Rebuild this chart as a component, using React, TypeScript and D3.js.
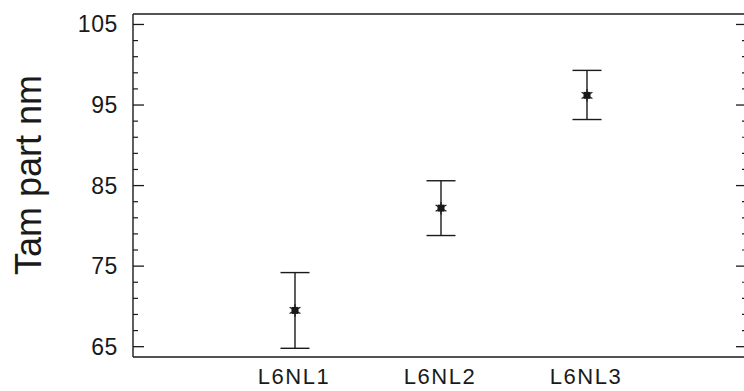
import React from "react";
import * as d3 from "d3";

// Group means with their interval bounds (particle size, nm)
const categories = ["L6NL1", "L6NL2", "L6NL3"];
const means = [69.5, 82.2, 96.2];
const upper = [74.2, 85.6, 99.3];
const lower = [64.8, 78.8, 93.2];
const majorTicks = [65, 75, 85, 95, 105];
const minorTicks = d3.range(65, 106, 2).filter((v) => !majorTicks.includes(v));

const W = 744;
const H = 391;
const left = 133;
const right = 746;
const top = 14;
const bottom = 357;

export default function App() {
  const y = d3.scaleLinear().domain([63.72, 106.3]).range([bottom, top]);
  const x = d3.scaleLinear().domain([1, 3]).range([295, 587]);
  const capHalf = 14.5;
  const square = d3.symbol().type(d3.symbolSquare).size(49)()!;
  const star = d3.symbol().type(d3.symbolAsterisk).size(110)()!;
  const ink = "#1a1a1a";
  const font = "Arial, 'Liberation Sans', sans-serif";

  return (
    <svg
      width={W}
      height={H}
      style={{ position: "fixed", left: 0, top: 0, background: "#fff" }}
    >
      <rect width={W} height={H} fill="#fff" />
      {/* frame */}
      <line x1={left} x2={right} y1={top} y2={top} stroke={ink} strokeWidth={1.6} />
      <line x1={left} x2={right} y1={bottom} y2={bottom} stroke={ink} strokeWidth={1.6} />
      <line x1={left} x2={left} y1={top} y2={bottom} stroke={ink} strokeWidth={1.4} />
      <line x1={right} x2={right} y1={top} y2={bottom} stroke={ink} strokeWidth={1.4} />

      {/* axis ticks */}
      {majorTicks.map((t) => (
        <g key={"m" + t}>
          <line x1={left} x2={left + 11} y1={y(t)} y2={y(t)} stroke={ink} strokeWidth={1.3} />
          <line x1={right} x2={right - 10} y1={y(t)} y2={y(t)} stroke={ink} strokeWidth={1.3} />
          <text
            x={118}
            y={y(t) + 8}
            textAnchor="end"
            fontFamily={font}
            fontSize={23}
            letterSpacing={0.6}
            fill={ink}
          >
            {t}
          </text>
        </g>
      ))}
      {minorTicks.map((t) => (
        <g key={"n" + t}>
          <line x1={left} x2={left + 5} y1={y(t)} y2={y(t)} stroke={ink} strokeWidth={1.2} />
          <line x1={right} x2={right - 4} y1={y(t)} y2={y(t)} stroke={ink} strokeWidth={1.2} />
        </g>
      ))}

      {/* axis title */}
      <text
        transform={`translate(41,175) rotate(-90)`}
        textAnchor="middle"
        fontFamily={font}
        fontSize={36}
        fill={ink}
      >
        Tam part nm
      </text>

      {/* category labels */}
      {categories.map((c, i) => (
        <text
          key={c}
          x={x(i + 1) - 1}
          y={384}
          textAnchor="middle"
          fontFamily={font}
          fontSize={22}
          letterSpacing={1.5}
          fill={ink}
        >
          {c}
        </text>
      ))}

      {/* error bars with means */}
      {categories.map((c, i) => {
        const cx = x(i + 1);
        return (
          <g key={"e" + c} stroke={ink} strokeWidth={1.4}>
            <line x1={cx} x2={cx} y1={y(upper[i])} y2={y(lower[i])} />
            <line x1={cx - capHalf} x2={cx + capHalf} y1={y(upper[i])} y2={y(upper[i])} />
            <line x1={cx - capHalf} x2={cx + capHalf} y1={y(lower[i])} y2={y(lower[i])} />
            <path d={square} transform={`translate(${cx},${y(means[i])})`} fill={ink} stroke="none" />
            <path d={star} transform={`translate(${cx},${y(means[i])})`} fill="none" strokeWidth={1.2} />
          </g>
        );
      })}
    </svg>
  );
}
